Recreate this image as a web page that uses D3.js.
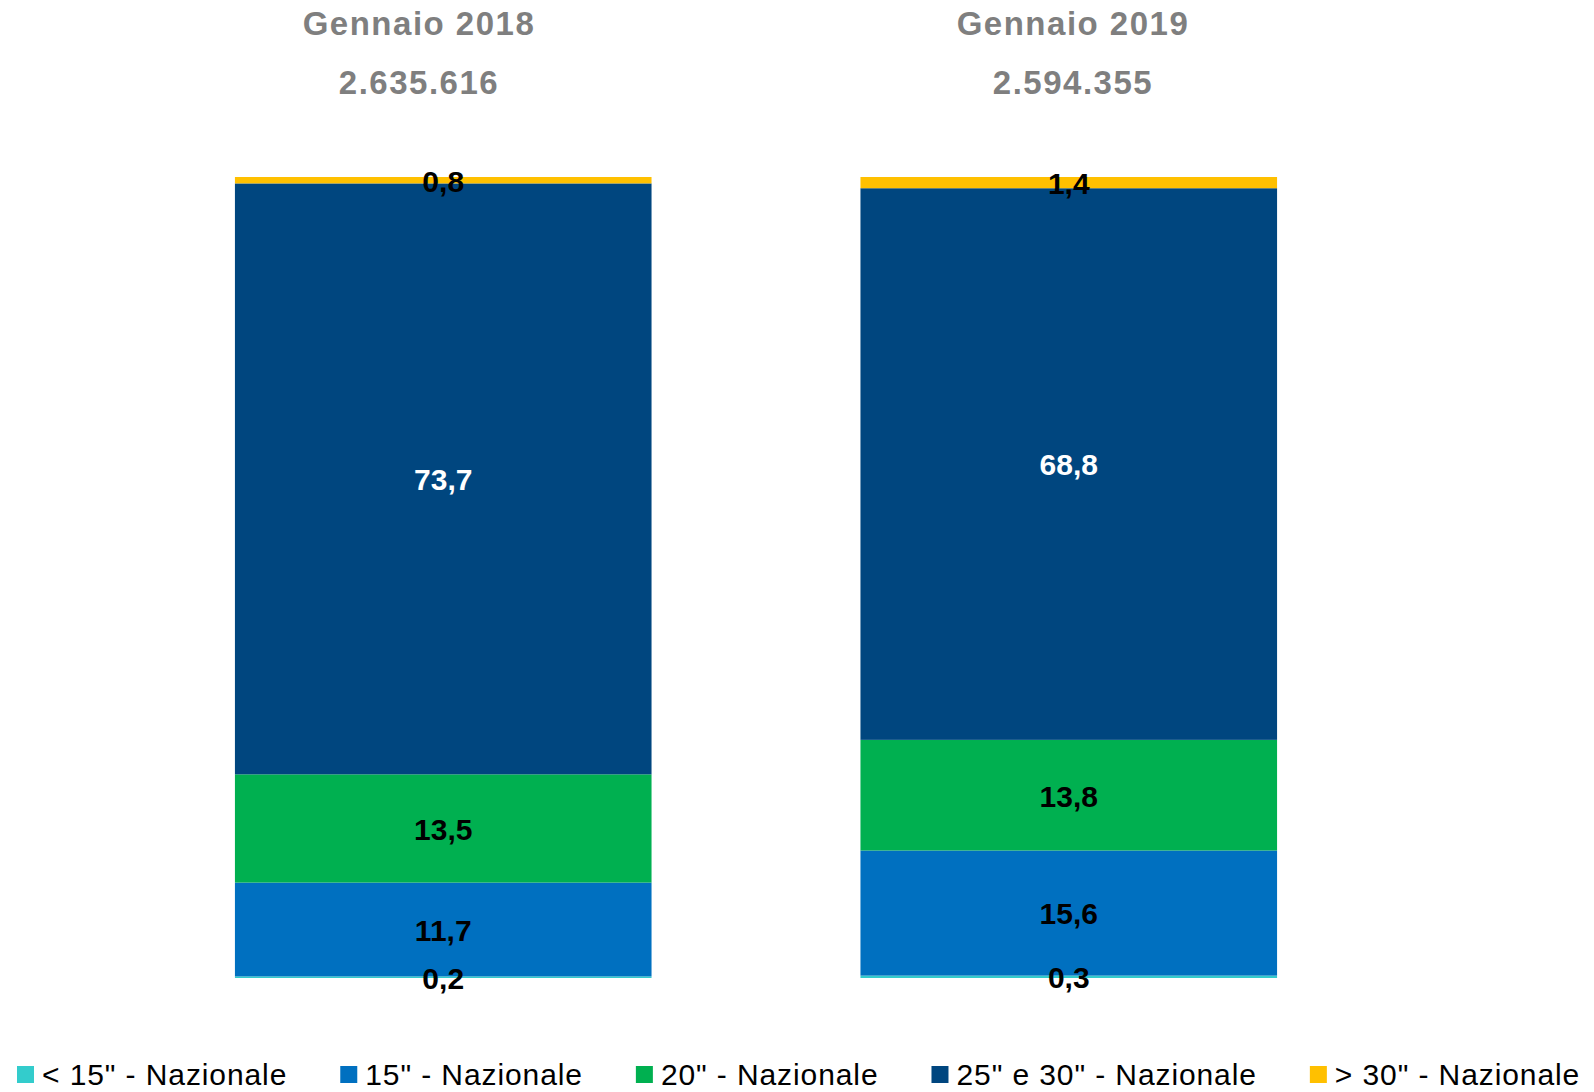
<!DOCTYPE html>
<html>
<head>
<meta charset="utf-8">
<style>
  body { margin: 0; background: #fff; }
  svg { display: block; font-family: "Liberation Sans", Arial, sans-serif; }
</style>
<script src="https://d3js.org/d3.v7.min.js"></script>
</head>
<body>
<svg width="1594" height="1092"></svg>
<script>
// dati
var periodi = ["Gennaio 2018", "Gennaio 2019"];
var totali = ["2.635.616", "2.594.355"];
var serie = ["< 15\" - Nazionale", "15\" - Nazionale", "20\" - Nazionale", "25\" e 30\" - Nazionale", "> 30\" - Nazionale"];
var meno15 = [0.2, 0.3];
var quindici = [11.7, 15.6];
var venti = [13.5, 13.8];
var venticinque30 = [73.7, 68.8];
var oltre30 = [0.8, 1.4];

var colori = ["#33CCCC", "#0070C0", "#00B050", "#00467F", "#FFC000"];
var valori = [meno15, quindici, venti, venticinque30, oltre30];

var svg = d3.select("svg");

var rows = periodi.map(function(p, i) {
  var r = { periodo: p };
  serie.forEach(function(s, k) { r[s] = valori[k][i]; });
  return r;
});

var stack = d3.stack().keys(serie)(rows);

var x = d3.scaleBand()
  .domain(periodi)
  .range([26, 1486])
  .paddingInner(0.334)
  .paddingOuter(0.334);

var ymax = d3.max(rows, function(r) { return d3.sum(serie, function(s) { return r[s]; }); });
var y = d3.scaleLinear().domain([0, ymax]).range([978, 177]);

var fmt = function(v) { return d3.format(".1f")(v).replace(".", ","); };

var layer = svg.append("g").selectAll("g")
  .data(stack)
  .enter().append("g")
  .attr("fill", function(d, i) { return colori[i]; });

layer.selectAll("rect")
  .data(function(d) { return d; })
  .enter().append("rect")
  .attr("x", function(d) { return x(d.data.periodo); })
  .attr("y", function(d) { return y(d[1]); })
  .attr("width", x.bandwidth())
  .attr("height", function(d) { return y(d[0]) - y(d[1]); });

// etichette dei valori
var lab = svg.append("g")
  .attr("font-weight", "bold")
  .attr("font-size", 30)
  .attr("text-anchor", "middle");

stack.forEach(function(s, k) {
  s.forEach(function(d) {
    lab.append("text")
      .attr("x", x(d.data.periodo) + x.bandwidth() / 2)
      .attr("y", y((d[0] + d[1]) / 2))
      .attr("dy", "0.38em")
      .attr("fill", k == 3 ? "#fff" : "#000")
      .text(fmt(d[1] - d[0]));
  });
});

// titoli
var tx = [419, 1073];
var tit = svg.append("g")
  .attr("font-weight", "bold")
  .attr("font-size", 33)
  .attr("letter-spacing", 1.5)
  .attr("fill", "#7F7F7F")
  .attr("text-anchor", "middle");

periodi.forEach(function(p, i) {
  tit.append("text").attr("x", tx[i]).attr("y", 35).text(p);
  tit.append("text").attr("x", tx[i]).attr("y", 94).text(totali[i]);
});

// legenda
var leg = svg.append("g")
  .attr("font-size", 30)
  .attr("letter-spacing", 0.9)
  .attr("fill", "#000");

var lx = 17;
serie.forEach(function(s, i) {
  leg.append("rect")
    .attr("x", lx).attr("y", 1066)
    .attr("width", 17).attr("height", 17)
    .attr("fill", colori[i]);
  var t = leg.append("text")
    .attr("x", lx + 25).attr("y", 1085)
    .text(s);
  lx += 25 + t.node().getComputedTextLength() + 53;
});
</script>
</body>
</html>
